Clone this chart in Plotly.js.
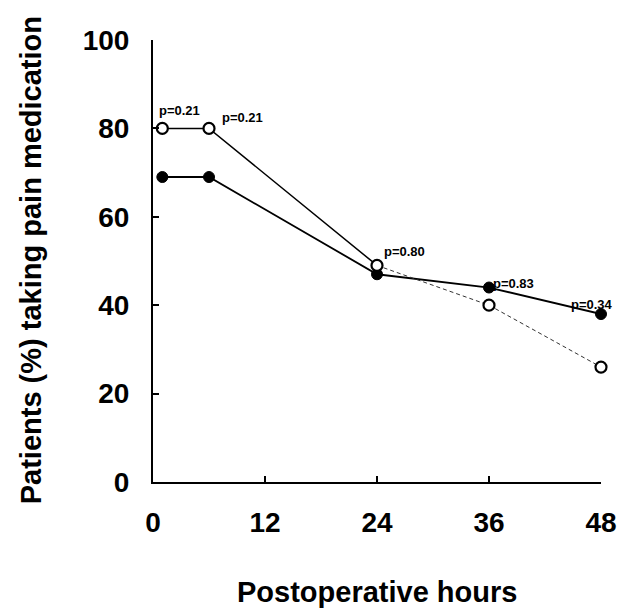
<!DOCTYPE html>
<html>
<head>
<meta charset="utf-8">
<script src="https://cdn.plot.ly/plotly-3.0.1.min.js"></script>
<style>html,body{margin:0;padding:0;background:#fff;}#chart{width:633px;height:616px;}</style>
</head>
<body>
<div id="chart"></div>
<script>
// Data
var hours = [1, 6, 24, 36, 48];
var openVals = [80, 80, 49, 40, 26];
var filledVals = [69, 69, 47, 44, 38];
var pLabels = ['p=0.21', 'p=0.21', 'p=0.80', 'p=0.83', 'p=0.34'];
var pOnSeries = ['open', 'open', 'open', 'filled', 'filled'];
var xTicks = [0, 12, 24, 36, 48];
var yTicks = [0, 20, 40, 60, 80, 100];
var xTitle = 'Postoperative hours';
var yTitle = 'Patients (%) taking pain medication';

var FONT = 'Liberation Sans, Arial, Helvetica, sans-serif';

var traces = [
  {x: hours, y: filledVals, mode: 'lines+markers', cliponaxis: false,
   line: {color: '#000', width: 1.8},
   marker: {symbol: 'circle', size: 11, color: '#000', line: {color: '#000', width: 1}}},
  {x: hours.slice(0, 3), y: openVals.slice(0, 3), mode: 'lines', cliponaxis: false,
   line: {color: '#000', width: 1.5}},
  {x: hours.slice(2), y: openVals.slice(2), mode: 'lines', cliponaxis: false,
   line: {color: '#333', width: 1, dash: '4px,3px'}},
  {x: hours, y: openVals, mode: 'markers', cliponaxis: false,
   marker: {symbol: 'circle', size: 11, color: '#fff', line: {color: '#000', width: 2.2}}}
];

var shifts = [[17, 18], [33, 11], [27, 14], [24, 4], [-9, 10]];
var annotations = pLabels.map(function (t, i) {
  var yv = pOnSeries[i] === 'open' ? openVals[i] : filledVals[i];
  return {x: hours[i], y: yv, xref: 'x', yref: 'y', text: t, showarrow: false,
    xanchor: 'center', yanchor: 'middle', xshift: shifts[i][0], yshift: shifts[i][1],
    font: {family: FONT, size: 13, color: '#000', weight: 700}};
});
annotations.push({xref: 'paper', yref: 'paper', x: 0.5, y: -0.249, text: xTitle,
  showarrow: false, xanchor: 'center', yanchor: 'middle',
  font: {family: FONT, size: 29, color: '#000', weight: 700}});
annotations.push({xref: 'paper', yref: 'paper', x: -0.272, y: 0.502, text: yTitle,
  showarrow: false, xanchor: 'center', yanchor: 'middle', textangle: -90,
  font: {family: FONT, size: 29, color: '#000', weight: 700}});

var layout = {
  width: 633, height: 616,
  margin: {l: 153, r: 32, t: 40, b: 134, pad: 0},
  paper_bgcolor: '#fff', plot_bgcolor: '#fff',
  showlegend: false,
  font: {family: FONT, color: '#000', weight: 700},
  xaxis: {range: [0, 48], tickvals: xTicks, ticktext: xTicks.map(String),
    showgrid: false, zeroline: false, showline: true, linecolor: '#000', linewidth: 2,
    ticks: 'inside', ticklen: 6, tickwidth: 2, tickcolor: '#000',
    ticklabelstandoff: 14, tickfont: {family: FONT, size: 28, color: '#000', weight: 700}},
  yaxis: {range: [0, 100], tickvals: yTicks, ticktext: yTicks.map(String),
    showgrid: false, zeroline: false, showline: true, linecolor: '#000', linewidth: 2,
    ticks: 'inside', ticklen: 6, tickwidth: 2, tickcolor: '#000',
    ticklabelstandoff: 16, tickfont: {family: FONT, size: 28, color: '#000', weight: 700}},
  annotations: annotations
};

Plotly.newPlot('chart', traces, layout, {displayModeBar: false, staticPlot: true});
</script>
</body>
</html>
